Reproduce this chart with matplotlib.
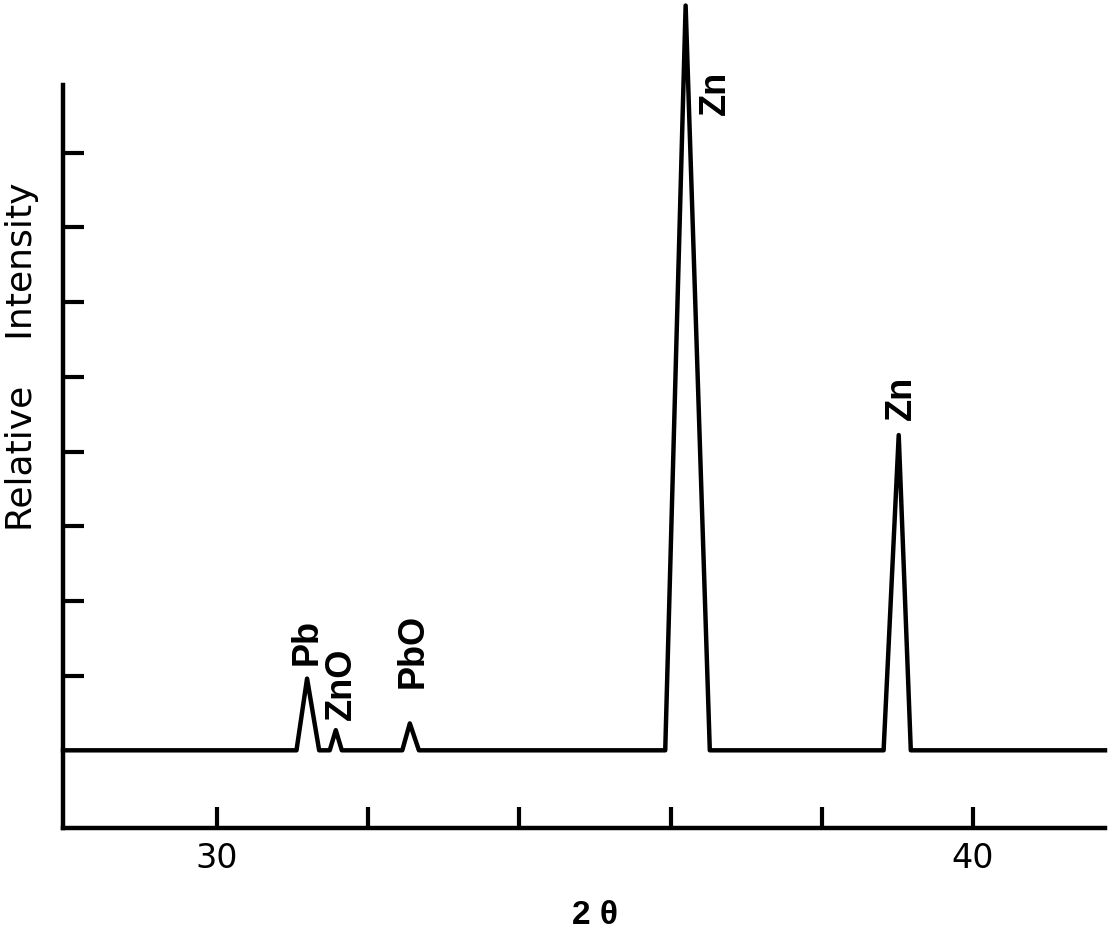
import matplotlib
matplotlib.use("Agg")
from matplotlib import pyplot as plt

plt.rcParams['font.family'] = ['Liberation Sans', 'DejaVu Sans']

# scan range in 2-theta
x_start, x_end = 27.96, 41.75

# peaks: phase, apex position, left/right foot, height (relative units)
labels = ["Pb", "ZnO", "PbO", "Zn", "Zn"]
centres = [31.19, 31.57, 32.55, 36.20, 39.02]
left_feet = [31.05, 31.49, 32.45, 35.93, 38.82]
right_feet = [31.35, 31.65, 32.67, 36.52, 39.18]
heights = [0.96, 0.27, 0.36, 9.97, 4.22]

# where each phase label sits (centre x, bottom y)
label_x = [31.19, 31.65, 32.59, 36.60, 39.05]
label_y = [1.14, 0.40, 0.84, 8.50, 4.42]

xticks = [30, 32, 34, 36, 38, 40]
xticklabels = ["30", "", "", "", "", "40"]
yticks = [1, 2, 3, 4, 5, 6, 7, 8]

# build the trace: flat baseline with triangular peaks
xs = [x_start]
ys = [0]
for lf, c, rf, h in zip(left_feet, centres, right_feet, heights):
    xs += [lf, c, rf]
    ys += [0, h, 0]
xs.append(x_end)
ys.append(0)

fig = plt.figure(figsize=(11.13, 9.3), dpi=100)
ax = fig.add_axes([63/1113, 102/930, (1105-63)/1113, (828-3.3)/930])

ax.plot(xs, ys, color='black', lw=3.2, solid_joinstyle='round', clip_on=False)

for lab, lx, ly in zip(labels, label_x, label_y):
    ax.text(lx, ly, lab, rotation=90, ha='center', va='bottom',
            fontsize=26, fontweight='bold')

ax.set_xlim(x_start, x_end)
ax.set_ylim(-1.04, 10.0)

ax.spines['top'].set_visible(False)
ax.spines['right'].set_visible(False)
ax.spines['left'].set_bounds(-1.04, 8.9)
ax.spines['left'].set_linewidth(3.2)
ax.spines['bottom'].set_linewidth(3.2)

ax.set_xticks(xticks)
ax.set_xticklabels(xticklabels, family='DejaVu Sans')
ax.set_yticks(yticks)
ax.set_yticklabels([])
ax.tick_params(direction='in', length=15, width=3, labelsize=24, pad=10)

fig.text(0.0198, 0.616, "Relative    Intensity", rotation=90,
         ha='center', va='center', fontsize=26, family='DejaVu Sans')
fig.text(0.535, 0.016, "2 θ", ha='center', va='center',
         fontsize=24, fontweight='bold')

fig.savefig("out.png", dpi=100)
